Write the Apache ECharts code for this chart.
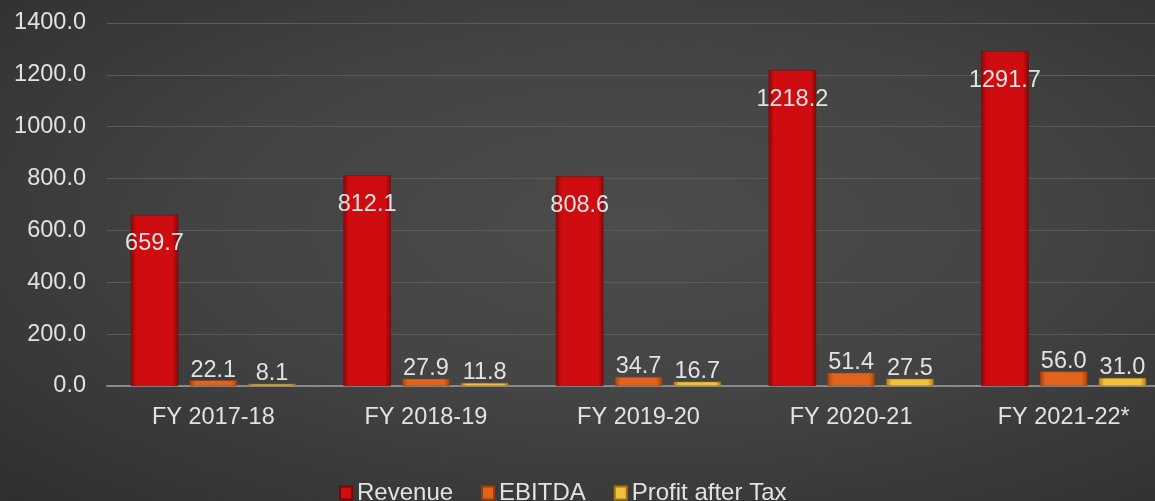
<!DOCTYPE html>
<html>
<head>
<meta charset="utf-8">
<script src="https://cdn.jsdelivr.net/npm/echarts@6/dist/echarts.min.js"></script>
<style>
  html, body { margin: 0; padding: 0; }
  #chart {
    width: 1155px; height: 501px;
    background: radial-gradient(ellipse at 55% 45%, #4c4c4c 0%, #444 45%, #2f2f2f 100%);
  }
</style>
</head>
<body>
<div id="chart"></div>
<script>
const categories = ['FY 2017-18', 'FY 2018-19', 'FY 2019-20', 'FY 2020-21', 'FY 2021-22*']
const revenue = [659.7, 812.1, 808.6, 1218.2, 1291.7]
const ebitda = [22.1, 27.9, 34.7, 51.4, 56.0]
const pat = [8.1, 11.8, 16.7, 27.5, 31.0]
const yTicks = { min: 0, max: 1400, interval: 200 }

const font = 'Liberation Sans, Arial, sans-serif'
const textColor = '#e2e2e2'
const fs = 23.5

// 立体感用横向渐变
function bevel (edge, mid) {
  return new echarts.graphic.LinearGradient(0, 0, 1, 0, [
    { offset: 0, color: edge },
    { offset: 0.12, color: mid },
    { offset: 0.88, color: mid },
    { offset: 1, color: edge }
  ])
}

function fmt (p) {
  return p.value.toFixed(1)
}

let myChart = echarts.init(document.getElementById('chart'))
let option = {
  backgroundColor: 'transparent',
  textStyle: { fontFamily: font },
  grid: { left: 107, width: 1063, top: 23, bottom: 115, outerBoundsMode: 'none', containLabel: false },
  legend: {
    bottom: -9,
    left: 334,
    icon: 'rect',
    itemWidth: 12,
    itemHeight: 13,
    itemGap: 28,
    textStyle: { color: textColor, fontSize: 24, fontFamily: font },
    data: ['Revenue', 'EBITDA', 'Profit after Tax']
  },
  xAxis: {
    type: 'category',
    data: categories,
    axisLine: { lineStyle: { color: '#8a8a8a', width: 2 } },
    axisTick: { show: false },
    axisLabel: { color: textColor, fontSize: fs, margin: 20, fontFamily: font }
  },
  yAxis: {
    type: 'value',
    min: yTicks.min,
    max: yTicks.max,
    interval: yTicks.interval,
    axisLine: { show: false },
    axisTick: { show: false },
    splitLine: { lineStyle: { color: '#5a5a5a', width: 1 } },
    axisLabel: {
      color: textColor, fontSize: fs, margin: 21, fontFamily: font,
      formatter: function (v) { return v.toFixed(1) }
    }
  },
  series: [
    {
      name: 'Revenue',
      type: 'bar',
      data: revenue,
      barGap: '24%',
      barCategoryGap: '22.4%',
      itemStyle: { color: bevel('#8e0606', '#cf0c10'), borderColor: '#7a0505', borderWidth: 0.5 },
      label: {
        show: true, position: 'insideTop', distance: 17,
        color: textColor, fontSize: fs, fontFamily: font, formatter: fmt
      }
    },
    {
      name: 'EBITDA',
      type: 'bar',
      data: ebitda,
      itemStyle: { color: bevel('#a3420f', '#e2641c'), borderColor: '#9a3d0c', borderWidth: 0.5 },
      label: {
        show: true, position: 'top', distance: -2,
        color: textColor, fontSize: fs, fontFamily: font, formatter: fmt
      }
    },
    {
      name: 'Profit after Tax',
      type: 'bar',
      data: pat,
      itemStyle: { color: bevel('#b07a18', '#f0c23a'), borderColor: '#a8720f', borderWidth: 0.5 },
      label: {
        show: true, position: 'top', distance: -2,
        color: textColor, fontSize: fs, fontFamily: font, formatter: fmt
      }
    }
  ]
}
myChart.setOption(option, true)
</script>
</body>
</html>
